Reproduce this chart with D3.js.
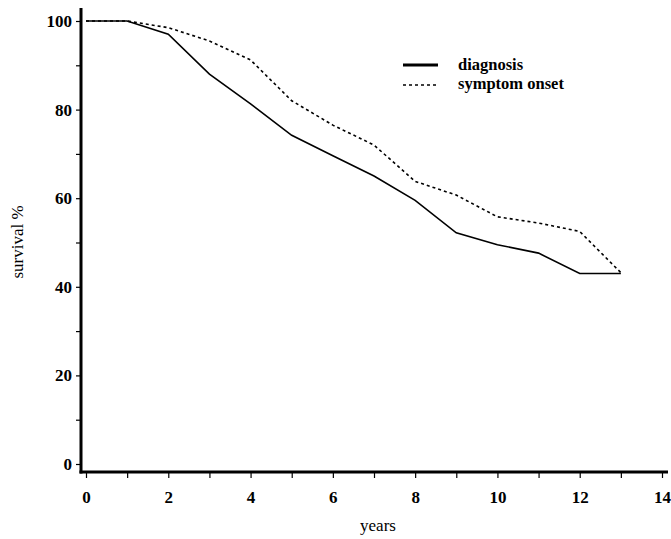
<!DOCTYPE html>
<html>
  <head>
    <meta charset="utf-8">
    <title>Survival</title>
    <script src="https://d3js.org/d3.v7.min.js"></script>
    <style>
      body { margin: 0; background: #fff; }
      svg text { font-family: "Liberation Serif", "DejaVu Serif", serif; }
      .tick text { font-weight: bold; font-size: 17px; }
      .label { font-size: 17px; }
      .legend { font-weight: bold; font-size: 16.5px; }
    </style>
  </head>
  <body>
    <svg id="chart" width="671" height="539"></svg>
    <script>
      // data
      years = [0, 1, 2, 3, 4, 5, 6, 7, 8, 9, 10, 11, 12, 13];
      diagnosis = [100, 100, 97, 88, 81.3, 74.2, 69.6, 65, 59.5, 52.2, 49.5, 47.6, 43, 43];
      symptomOnset = [100, 100, 98.5, 95.5, 91.2, 82, 76.5, 72, 63.8, 60.7, 55.8, 54.4, 52.5, 43.2];
      yTicks = [0, 20, 40, 60, 80, 100];
      xTicks = [0, 2, 4, 6, 8, 10, 12, 14];
      seriesNames = ["diagnosis", "symptom onset"];

      chart = d3.select("#chart");
      x = d3.scaleLinear().domain([0, 14]).range([86, 662]);
      y = d3.scaleLinear().domain([0, 100]).range([464, 21]);
      axisX = 472;
      axisY = 81;
      serif = "Liberation Serif, DejaVu Serif, serif";

      // y axis
      yAxis = d3.axisLeft(y)
        .tickValues(d3.range(0, 101, 10))
        .tickSize(5)
        .tickPadding(4)
        .tickFormat(function(d) { return yTicks.indexOf(d) >= 0 ? d : ""; });
      yAxisGroup = chart.append("g")
        .attr("transform", "translate(" + axisY + ",0)")
        .call(yAxis)
        .attr("font-family", serif);
      yAxisGroup.select(".domain").remove();
      yAxisGroup.selectAll(".tick line").attr("stroke-width", 1.2);
      chart.append("line")
        .attr("x1", axisY).attr("x2", axisY)
        .attr("y1", 8).attr("y2", axisX + 1.5)
        .attr("stroke", "#000").attr("stroke-width", 3);

      // x axis
      xAxis = d3.axisBottom(x)
        .tickValues(d3.range(0, 15, 1))
        .tickSize(6)
        .tickPadding(13)
        .tickFormat(function(d) { return xTicks.indexOf(d) >= 0 ? d : ""; });
      xAxisGroup = chart.append("g")
        .attr("transform", "translate(0," + axisX + ")")
        .call(xAxis)
        .attr("font-family", serif);
      xAxisGroup.select(".domain").remove();
      xAxisGroup.selectAll(".tick line").attr("stroke-width", 1.2);
      chart.append("line")
        .attr("x1", axisY - 1.5).attr("x2", 668)
        .attr("y1", axisX).attr("y2", axisX)
        .attr("stroke", "#000").attr("stroke-width", 3);

      // axis titles
      chart.append("text")
        .classed("label", true)
        .attr("transform", "translate(23,242) rotate(-90)")
        .attr("text-anchor", "middle")
        .text("survival %");
      chart.append("text")
        .classed("label", true)
        .attr("x", 378).attr("y", 531)
        .attr("text-anchor", "middle")
        .text("years");

      // curves
      line = d3.line()
        .x(function(d) { return x(d[0]); })
        .y(function(d) { return y(d[1]); });
      chart.append("path")
        .attr("d", line(d3.zip(years, diagnosis)))
        .attr("fill", "none").attr("stroke", "#000").attr("stroke-width", 1.6);
      chart.append("path")
        .attr("d", line(d3.zip(years, symptomOnset)))
        .attr("fill", "none").attr("stroke", "#000").attr("stroke-width", 1.6)
        .attr("stroke-dasharray", "3,3");

      // legend
      legend = chart.append("g").attr("transform", "translate(403,65)");
      legend.append("line")
        .attr("x1", 0).attr("x2", 35).attr("y1", 0).attr("y2", 0)
        .attr("stroke", "#000").attr("stroke-width", 3);
      legend.append("line")
        .attr("x1", 0).attr("x2", 35).attr("y1", 20).attr("y2", 20)
        .attr("stroke", "#000").attr("stroke-width", 1.6)
        .attr("stroke-dasharray", "3,3");
      legend.selectAll("text.legend")
        .data(seriesNames)
        .enter().append("text")
          .classed("legend", true)
          .attr("x", 55)
          .attr("y", function(d, i) { return 5 + i * 19; })
          .text(function(d) { return d; });
    </script>
  </body>
</html>
